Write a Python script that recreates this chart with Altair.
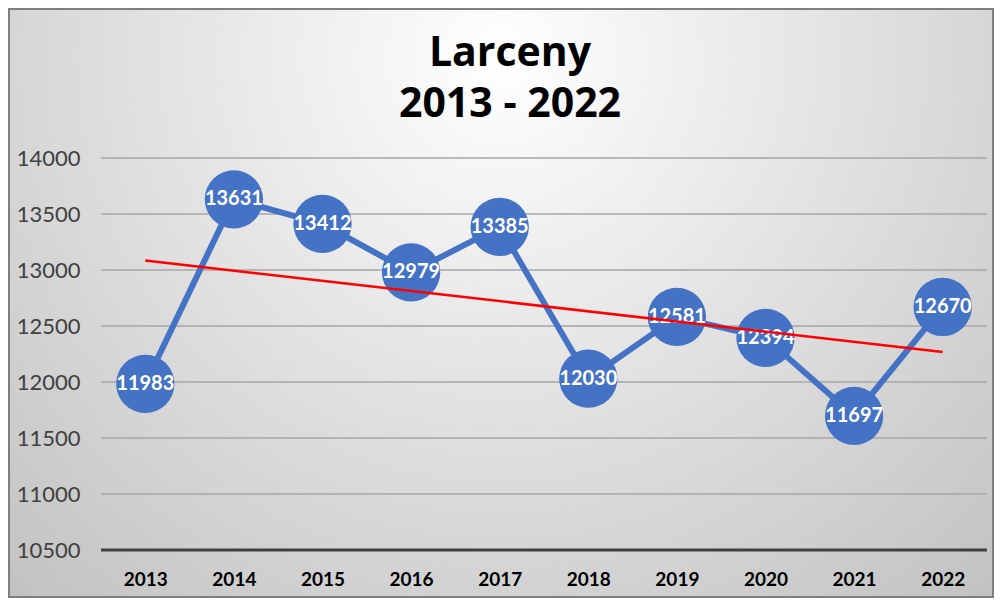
import altair as alt
import pandas as pd

years = [2013, 2014, 2015, 2016, 2017, 2018, 2019, 2020, 2021, 2022]
values = [11983, 13631, 13412, 12979, 13385, 12030, 12581, 12394, 11697, 12670]
grid_values = [11000, 11500, 12000, 12500, 13000, 13500, 14000]
y_ticks = [10500, 11000, 11500, 12000, 12500, 13000, 13500, 14000]
title_lines = ["Larceny", "2013 - 2022"]

W, H = 886, 392
PAD = {"left": 93, "top": 150, "right": 7, "bottom": 48}
FONT = "Lato"
BLUE = "#4472C4"

df = pd.DataFrame({"year": years, "value": values})
grid_df = pd.DataFrame({"value": grid_values})

xscale = alt.Scale(domain=[2012.5, 2022.5], nice=False, zero=False)
yscale = alt.Scale(domain=[10500, 14000], nice=False, zero=False)

x_axis = alt.Axis(values=years, format="d", title=None, grid=False, domain=False,
                  ticks=False, labelFont=FONT, labelFontSize=19, labelFontWeight="bold",
                  labelColor="#000000", labelPadding=20, zindex=1)
y_axis = alt.Axis(values=y_ticks, format="d", title=None, grid=False, domain=False,
                  ticks=False, labelFont=FONT, labelFontSize=22, labelColor="#404040",
                  labelPadding=21, zindex=1)

bg = alt.Chart(pd.DataFrame({"a": [0]})).mark_rect(
    fill=alt.RadialGradient(
        gradient="radial",
        x1=0.5, y1=0.25, r1=0.0,
        x2=0.5, y2=0.25, r2=0.8,
        stops=[alt.GradientStop(offset=0, color="#ffffff"),
               alt.GradientStop(offset=1, color="#bdbdbd")],
    ),
    stroke="#7f7f7f", strokeWidth=2,
).encode(
    x=alt.value(-PAD["left"] + 1), x2=alt.value(W + PAD["right"] - 1),
    y=alt.value(-PAD["top"] + 1), y2=alt.value(H + PAD["bottom"] - 1),
)

title = alt.Chart(pd.DataFrame({"t": [title_lines]})).mark_text(
    font="Open Sans", fontSize=41, fontWeight="bold", color="#000000",
    baseline="middle", align="center", lineHeight=51,
).encode(
    text="t", x=alt.value(W / 2 - 34), y=alt.value(-PAD["top"] + 46),
)

grid = alt.Chart(grid_df).mark_rule(color="#a6a6a6", strokeWidth=1.5).encode(
    y=alt.Y("value:Q", scale=yscale, axis=y_axis)
)

base_rule = alt.Chart(pd.DataFrame({"value": [10500]})).mark_rule(color="#404040", strokeWidth=3).encode(
    y=alt.Y("value:Q", scale=yscale, axis=y_axis)
)

base = alt.Chart(df).encode(
    x=alt.X("year:Q", scale=xscale, axis=x_axis),
    y=alt.Y("value:Q", scale=yscale, axis=y_axis),
)

line = base.mark_line(color=BLUE, strokeWidth=6)
pts = base.mark_circle(color=BLUE, opacity=1, size=3400)
labels = base.mark_text(color="white", font=FONT, fontSize=20, fontWeight="bold").encode(
    text=alt.Text("value:Q", format="d")
)

trend = alt.Chart(df).transform_regression("year", "value", method="linear").mark_line(
    color="#ff0000", strokeWidth=2.5
).encode(
    x=alt.X("year:Q", scale=xscale, axis=x_axis),
    y=alt.Y("value:Q", scale=yscale, axis=y_axis),
)

chart = alt.layer(bg, title, grid, base_rule, line, pts, labels, trend).properties(
    width=W, height=H,
    padding=PAD,
    autosize=alt.AutoSizeParams(type="none"),
).configure_view(stroke=None)

chart.save("out.html", embed_options={"renderer": "svg", "actions": False})
